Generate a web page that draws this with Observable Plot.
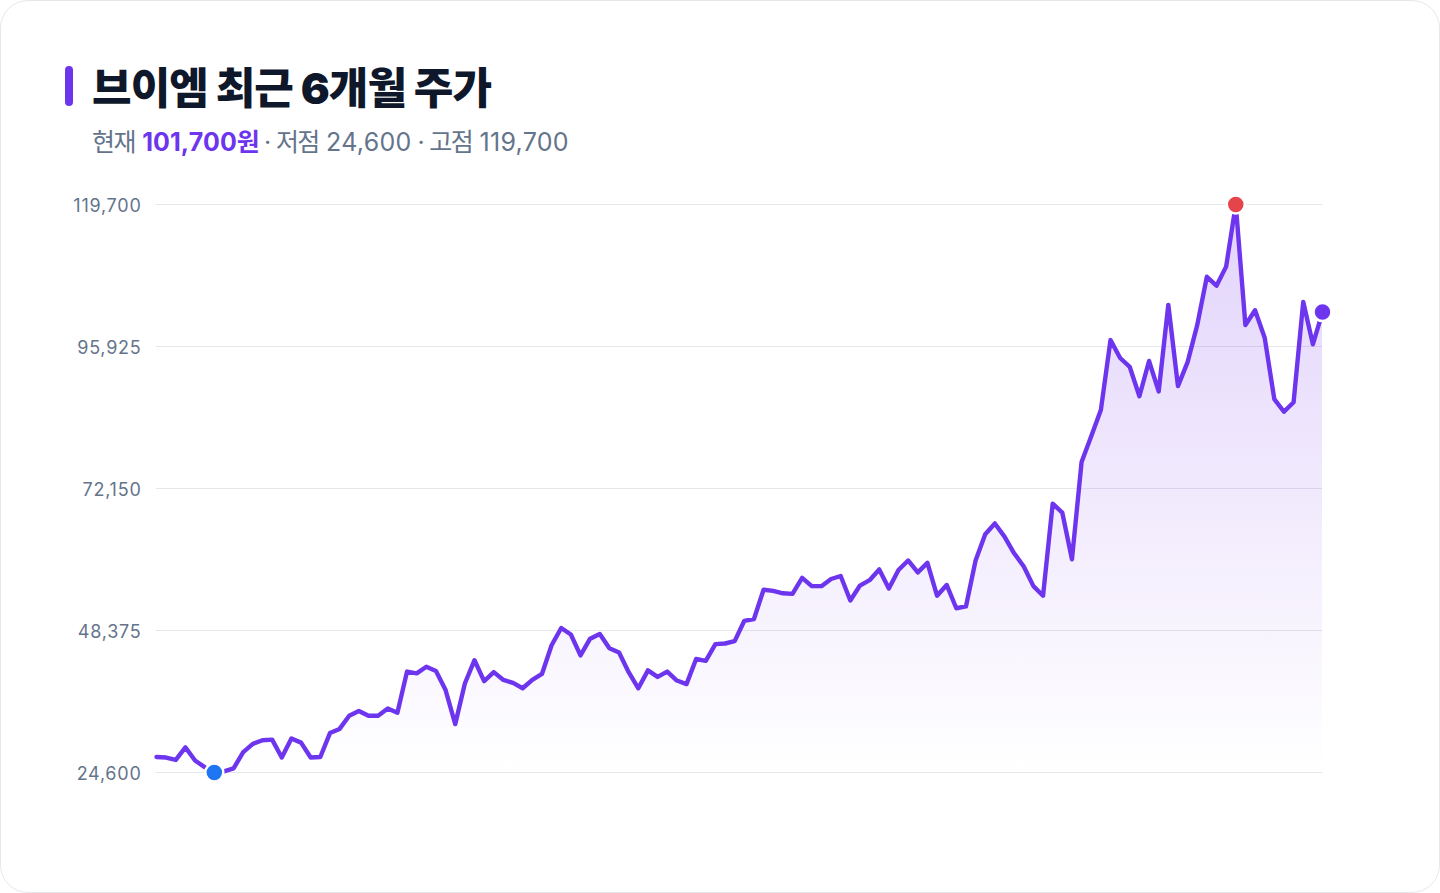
<!DOCTYPE html>
<html lang="ko">
<head>
<meta charset="utf-8">
<script src="https://cdn.jsdelivr.net/npm/d3@7"></script>
<script src="https://cdn.jsdelivr.net/npm/@observablehq/plot@0.6"></script>
<style>
html,body{margin:0;padding:0;background:#fff;}
body{width:1440px;height:893px;overflow:hidden;font-family:Inter,"Noto Sans CJK KR",sans-serif;}
#card{position:relative;box-sizing:border-box;width:1440px;height:893px;border:1px solid #e5e7eb;border-radius:28px;background:#fff;overflow:hidden;}
#bar{position:absolute;left:64px;top:65px;width:8px;height:40px;border-radius:4px;background:#6d35ee;}
#title{position:absolute;left:91px;top:60px;font-size:43px;line-height:54px;font-weight:900;letter-spacing:-0.9px;color:#0f172a;white-space:nowrap;}
#sub{position:absolute;left:91px;top:124px;font-size:25px;line-height:34px;color:#64748b;white-space:nowrap;letter-spacing:0.3px;}
#sub b{color:#6d35ee;font-weight:700;letter-spacing:0.1px;}
#sub i{font-style:normal;letter-spacing:-1.6px;}
#sub s{text-decoration:none;letter-spacing:-1.2px;}
#chart{position:absolute;left:0;top:167px;}
#chart svg{display:block;overflow:visible;max-width:none !important;letter-spacing:0;}
#chart svg [aria-label="y-axis tick label"] text{letter-spacing:0.75px;}
</style>
</head>
<body>
<div id="card">
  <div id="bar"></div>
  <div id="title">브이엠 최근 6개월 주가</div>
  <div id="sub"><i>현재</i> <b>101,700<i>원</i></b><s> · </s><i>저점</i> 24,600<s> · </s><i>고점</i> 119,700</div>
  <div id="chart"></div>
</div>
<script>
const prices = [27200,27100,26700,28800,26600,25500,24600,24800,25300,28000,29400,30000,30100,27100,30300,29600,27100,27200,31200,31900,
34100,34900,34100,34100,35300,34600,41500,41200,42300,41600,38400,32700,39500,43400,39900,41400,40100,39600,38700,40100,
41100,45900,48800,47700,44200,47000,47800,45400,44700,41400,38700,41700,40600,41500,40000,39400,43600,43300,46100,46200,
46600,50000,50300,55200,55000,54600,54500,57200,55800,55800,57000,57500,53400,55900,56800,58600,55400,58500,60100,58100,
59700,54200,56000,52100,52400,60100,64500,66300,64100,61300,59100,55800,54200,69600,68100,60300,76600,80900,85300,97000,
94000,92500,87600,93500,88400,102900,89300,93300,99500,107600,106100,109300,119700,99500,102000,97400,87100,85000,86600,103400,
96300,101700];
const tickValues = [24600,48375,72150,95925,119700];
const lowIndex = 6, highIndex = 112, lastIndex = prices.length - 1;
const rows = prices.map((price, day) => ({day, price}));
const callouts = [
  {day: lowIndex, price: prices[lowIndex], color: "#1f75f2"},
  {day: highIndex, price: prices[highIndex], color: "#e5444b"},
  {day: lastIndex, price: prices[lastIndex], color: "#6d35ee"}
];

const gradient = () => {
  const defs = d3.create("svg:defs");
  const g = defs.append("linearGradient").attr("id","areaFade").attr("x1",0).attr("y1",0).attr("x2",0).attr("y2",1);
  g.append("stop").attr("offset","0%").attr("stop-color","#7c3aed").attr("stop-opacity",0.22);
  g.append("stop").attr("offset","100%").attr("stop-color","#7c3aed").attr("stop-opacity",0);
  return defs.node();
};

const chart = Plot.plot({
  width: 1440, height: 688,
  marginLeft: 155, marginRight: 119, marginTop: 36, marginBottom: 84,
  style: {background:"transparent", fontFamily:'Inter,"Noto Sans CJK KR",sans-serif'},
  x: {axis: null, domain: [0, lastIndex]},
  y: {domain: [24600,119700], axis: null},
  marks: [
    gradient,
    Plot.ruleY(tickValues, {stroke:"#e5e7eb", strokeWidth:1}),
    Plot.areaY(rows, {x:"day", y1:24600, y2:"price", fill:"url(#areaFade)"}),
    Plot.lineY(rows, {x:"day", y:"price", stroke:"#6d35ee", strokeWidth:4.4, strokeLinejoin:"round", strokeLinecap:"round"}),
    Plot.dot(callouts, {x:"day", y:"price", r:9, fill:"color", stroke:"#fff", strokeWidth:2.5}),
    Plot.axisY(tickValues, {anchor:"left", tickSize:0, tickPadding:15, tickFormat:d3.format(","), fontSize:18, fontVariant:"normal", fill:"#64748b", label:null, dy:1.5})
  ]
});
document.getElementById("chart").appendChild(chart);
</script>
</body>
</html>
